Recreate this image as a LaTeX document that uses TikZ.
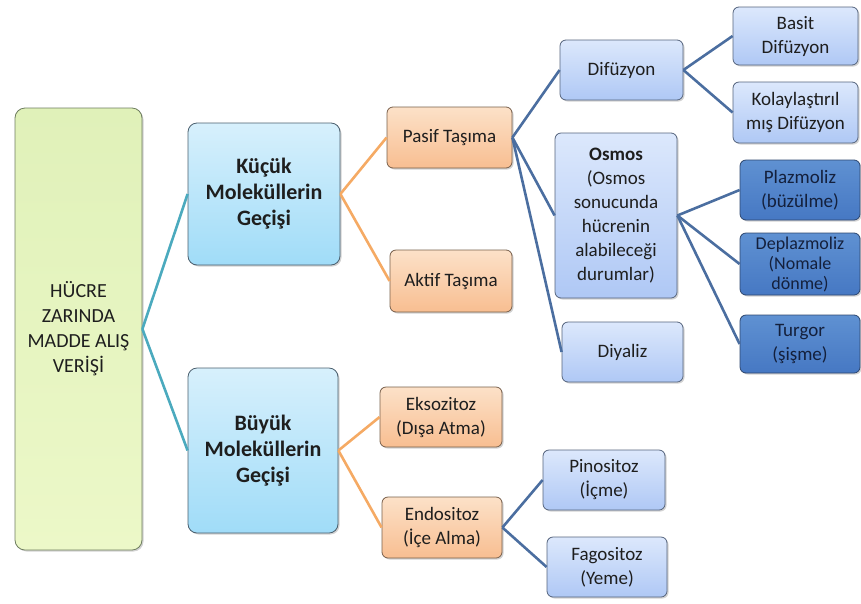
\documentclass[tikz,border=0pt]{standalone}
\usepackage{fontspec}
\setmainfont{Carlito}
\usepackage{xcolor}
\definecolor{TextDark}{RGB}{30,30,30}
\definecolor{RootTop}{RGB}{224,241,185}
\definecolor{RootBot}{RGB}{236,248,200}
\definecolor{RootBorder}{RGB}{110,125,95}
\definecolor{CyanTop}{RGB}{215,240,252}
\definecolor{CyanBot}{RGB}{160,220,248}
\definecolor{CyanBorder}{RGB}{75,95,110}
\definecolor{OrangeTop}{RGB}{252,225,200}
\definecolor{OrangeBot}{RGB}{248,190,145}
\definecolor{OrangeBorder}{RGB}{120,95,75}
\definecolor{BlueTop}{RGB}{220,232,252}
\definecolor{BlueBot}{RGB}{175,200,245}
\definecolor{BlueBorder}{RGB}{85,100,125}
\definecolor{DeepTop}{RGB}{95,145,210}
\definecolor{DeepBot}{RGB}{70,120,195}
\definecolor{DeepBorder}{RGB}{45,70,110}
\definecolor{DeepText}{RGB}{20,32,60}
\definecolor{LineTeal}{RGB}{75,170,190}
\definecolor{LineOrange}{RGB}{245,170,100}
\definecolor{LineBlue}{RGB}{75,110,160}
\usepackage{tikz}
\usetikzlibrary{positioning, shadows}
\tikzset{
  % Generic rounded box
  mbox/.style={
    rectangle, rounded corners=6pt,
    draw=BlueBorder, line width=0.8pt,
    top color=BlueTop, bottom color=BlueBot,
    align=center, text=TextDark,
    font=\fontsize{19}{24}\selectfont,
    inner sep=2pt,
    drop shadow={opacity=0.35, shadow xshift=1.5pt, shadow yshift=-1.5pt}
  },
  % Colored box variants
  mbox root/.style={mbox, rounded corners=10pt, draw=RootBorder,
    top color=RootTop, bottom color=RootBot,
    font=\fontsize{20}{25}\selectfont},
  mbox cyan/.style={mbox, rounded corners=9pt, draw=CyanBorder,
    top color=CyanTop, bottom color=CyanBot,
    font=\fontsize{22}{26}\selectfont\bfseries},
  mbox orange/.style={mbox, draw=OrangeBorder,
    top color=OrangeTop, bottom color=OrangeBot},
  mbox deep/.style={mbox, draw=DeepBorder,
    top color=DeepTop, bottom color=DeepBot, text=DeepText},
  % Connectors
  ln teal/.style={line width=2.6pt, LineTeal},
  ln orange/.style={line width=2.6pt, LineOrange},
  ln blue/.style={line width=2.6pt, LineBlue},
}
\begin{document}
\begin{tikzpicture}[x=1pt, y=-1pt]

  \useasboundingbox (0,0) rectangle (861,603);

  \node[mbox root, minimum width=127pt, minimum height=442pt]
    (root) at (78.5,329) {HÜCRE\\ZARINDA\\MADDE ALIŞ\\VERİŞİ};

  \node[mbox cyan, minimum width=152pt, minimum height=142pt]
    (kucuk) at (264,194) {Küçük\\Moleküllerin\\Geçişi};

  \node[mbox cyan, minimum width=150pt, minimum height=165pt]
    (buyuk) at (263,450.5) {Büyük\\Moleküllerin\\Geçişi};

  \node[mbox orange, minimum width=125pt, minimum height=61pt]
    (pasif) at (449.5,137.5) {Pasif Taşıma};

  \node[mbox orange, minimum width=122pt, minimum height=62pt]
    (aktif) at (451,281) {Aktif Taşıma};

  \node[mbox orange, minimum width=122pt, minimum height=60pt]
    (ekso) at (441,417) {Eksozitoz\\(Dışa Atma)};

  \node[mbox orange, minimum width=120pt, minimum height=61pt]
    (endo) at (442,527.5) {Endositoz\\(İçe Alma)};

  \node[mbox, minimum width=122pt, minimum height=60pt]
    (pino) at (604,480) {Pinositoz\\(İçme)};

  \node[mbox, minimum width=120pt, minimum height=60pt]
    (fago) at (607,567) {Fagositoz\\(Yeme)};

  \node[mbox, minimum width=123pt, minimum height=60pt]
    (dif) at (621.5,70) {Difüzyon};

  \node[mbox, minimum width=122pt, minimum height=165pt]
    (osmos) at (616,215.5) {\textbf{Osmos}\\(Osmos\\sonucunda\\hücrenin\\alabileceği\\durumlar)};

  \node[mbox, minimum width=121pt, minimum height=60pt]
    (diyaliz) at (622.5,352) {Diyaliz};

  \node[mbox, minimum width=125pt, minimum height=58pt]
    (basit) at (795.5,36) {Basit\\Difüzyon};

  \node[mbox, minimum width=125pt, minimum height=61pt]
    (kolay) at (795.5,112.5) {Kolaylaştırıl\\mış Difüzyon};

  \node[mbox deep, minimum width=120pt, minimum height=60pt]
    (plazmo) at (800,190) {Plazmoliz\\(büzülme)};

  \node[mbox deep, minimum width=120pt, minimum height=62pt, inner sep=0pt,
        font=\fontsize{18}{20}\selectfont]
    (deplaz) at (800,264) {Deplazmoliz\\(Nomale\\dönme)};

  \node[mbox deep, minimum width=120pt, minimum height=58pt]
    (turgor) at (800,344) {Turgor\\(şişme)};

  %% Connectors
  \draw[ln teal] (root.east) -- (kucuk.west);
  \draw[ln teal] (root.east) -- (buyuk.west);
  \draw[ln orange] (kucuk.east) -- (pasif.west);
  \draw[ln orange] (kucuk.east) -- (aktif.west);
  \draw[ln orange] (buyuk.east) -- (ekso.west);
  \draw[ln orange] (buyuk.east) -- (endo.west);
  \draw[ln blue] (pasif.east) -- (dif.west);
  \draw[ln blue] (pasif.east) -- (osmos.west);
  \draw[ln blue] (pasif.east) -- (diyaliz.west);
  \draw[ln blue] (dif.east) -- (basit.west);
  \draw[ln blue] (dif.east) -- (kolay.west);
  \draw[ln blue] (osmos.east) -- (plazmo.west);
  \draw[ln blue] (osmos.east) -- (deplaz.west);
  \draw[ln blue] (osmos.east) -- (turgor.west);
  \draw[ln blue] (endo.east) -- (pino.west);
  \draw[ln blue] (endo.east) -- (fago.west);

\end{tikzpicture}
\end{document}
